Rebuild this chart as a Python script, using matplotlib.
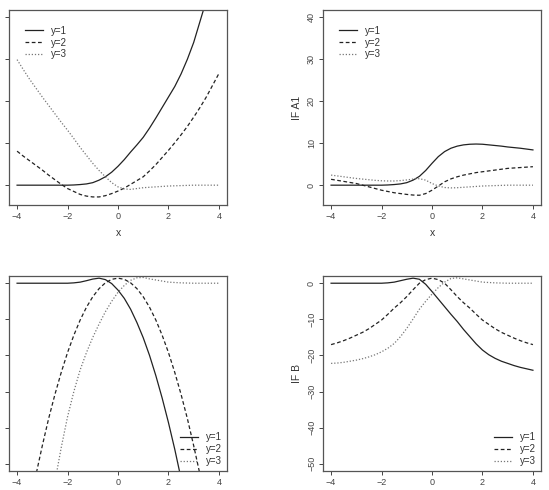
import matplotlib
matplotlib.use("Agg")
import matplotlib.pyplot as plt

plt.rcParams['font.family'] = ['Liberation Sans', 'DejaVu Sans']

# common x grid: values every 0.25
x = [-4, -3.75, -3.5, -3.25, -3, -2.75, -2.5, -2.25, -2, -1.75, -1.5,
     -1.25, -1, -0.75, -0.5, -0.25, 0, 0.25, 0.5, 0.75, 1, 1.25, 1.5,
     1.75, 2, 2.25, 2.5, 2.75, 3, 3.25, 3.5, 3.75, 4]

# top-left panel (its y labels fall outside the picture)
a0_y1 = [0, 0, 0, 0, 0, 0, 0, 0, 0, 0.05, 0.15, 0.3, 0.6, 1.2, 2, 3.1,
         4.5, 6.1, 7.9, 9.6, 11.4, 13.6, 16, 18.5, 21, 23.5, 26.5, 30, 34,
         39, 44, 49, 54]
a0_y2 = [8.1, 6.9, 5.8, 4.7, 3.6, 2.4, 1.3, 0.2, -0.8, -1.5, -2.2, -2.6,
         -2.8, -2.8, -2.5, -2.0, -1.4, -0.7, 0.2, 1.1, 2.0, 3.4, 4.9, 6.6,
         8.3, 10.1, 12, 14, 16.2, 18.5, 21, 23.8, 26.6]
a0_y3 = [29.9, 27.5, 25.2, 23.1, 21, 19, 17, 15, 13.1, 11.1, 9, 7.1, 5.2,
         3.5, 2, 0.6, -0.4, -0.9, -1.0, -0.8, -0.6, -0.5, -0.4, -0.3, -0.2,
         -0.15, -0.1, -0.05, 0, 0, 0, 0, 0]

# top-right panel: IF A1
a1_y1 = [0, 0, 0, 0, 0, 0, 0, 0, 0, 0.05, 0.15, 0.3, 0.6, 1.2, 2.1, 3.5,
         5.2, 6.8, 8.0, 8.8, 9.3, 9.6, 9.75, 9.8, 9.75, 9.6, 9.45, 9.3, 9.1,
         8.95, 8.8, 8.6, 8.4]
a1_y2 = [1.4, 1.15, 0.9, 0.65, 0.4, 0, -0.4, -0.8, -1.2, -1.5, -1.8, -2.0,
         -2.2, -2.35, -2.4, -2.0, -1.2, -0.2, 0.8, 1.5, 2.0, 2.4, 2.7, 3.0,
         3.2, 3.4, 3.6, 3.8, 4.0, 4.1, 4.2, 4.3, 4.4]
a1_y3 = [2.4, 2.2, 2.0, 1.8, 1.6, 1.45, 1.3, 1.15, 1.05, 1.0, 1.0, 1.1,
         1.25, 1.45, 1.55, 1.2, 0.4, -0.2, -0.55, -0.65, -0.6, -0.5, -0.4,
         -0.3, -0.2, -0.15, -0.1, -0.05, 0, 0, 0, 0, 0]

# bottom-left panel (its y labels fall outside the picture)
b0_y1 = [0, 0, 0, 0, 0, 0, 0, 0, 0, 0.1, 0.3, 0.7, 1.15, 1.4, 1.0, -0.1,
         -1.9, -4.2, -7.2, -10.9, -15.1, -20, -25.6, -31.8, -38.6, -46,
         -54.1, -62.9, -72.6, -83, -94, -106, -118]
b0_y2 = [-81, -71, -61.7, -53, -45, -37.5, -30.8, -24.7, -19.2, -14.4,
         -10.2, -6.65, -3.75, -1.5, 0.11, 1.08, 1.4, 1.08, 0.11, -1.5, -3.75,
         -6.65, -10.2, -14.4, -19.2, -24.7, -30.8, -37.5, -45, -53, -61.7,
         -71, -81]
b0_y3 = [-126, -113, -100.5, -88.5, -77, -65.5, -55, -45.5, -37, -30, -24,
         -19.2, -15, -11.3, -7.9, -5, -2.5, -0.6, 0.8, 1.5, 1.6, 1.2, 0.9,
         0.6, 0.3, 0.2, 0.1, 0.05, 0, 0, 0, 0, 0]

# bottom-right panel: IF B
b_y1 = [0, 0, 0, 0, 0, 0, 0, 0, 0, 0.1, 0.3, 0.7, 1.1, 1.4, 1.1, -0.3,
        -2.3, -4.4, -6.5, -8.6, -10.6, -12.8, -14.8, -16.8, -18.5, -19.8,
        -20.8, -21.6, -22.2, -22.8, -23.3, -23.7, -24.1]
b_y2 = [-17, -16.5, -15.9, -15.2, -14.4, -13.6, -12.6, -11.4, -10.2, -8.6,
        -6.9, -5.4, -3.7, -1.8, 0, 1.0, 1.4, 1.0, 0, -1.8, -3.7, -5.4, -6.9,
        -8.6, -10.2, -11.4, -12.6, -13.6, -14.4, -15.2, -15.9, -16.5, -17]
b_y3 = [-22.2, -22.1, -21.9, -21.6, -21.3, -20.9, -20.4, -19.8, -19, -18,
        -16.7, -14.8, -12.5, -9.9, -7.2, -5.0, -3.0, -1.2, 0.3, 1.3, 1.5,
        1.2, 0.9, 0.6, 0.3, 0.2, 0.1, 0.05, 0, 0, 0, 0, 0]

labels = ['y=1', 'y=2', 'y=3']
xticks = [-4, -2, 0, 2, 4]

W, H = 549, 490
fig = plt.figure(figsize=(W / 100, H / 100), dpi=100)


def box(l, t, r, b):
    return [l / W, 1 - b / H, (r - l) / W, (b - t) / H]


def panel(rect, ys, yticks, ylim, ylab, xlab, legloc, legpad,
          show_ylabels=True):
    ax = fig.add_axes(rect)
    styles = [dict(color='#222222', ls='-', lw=0.9),
              dict(color='#222222', ls=(0, (3, 2)), lw=0.9),
              dict(color='#777777', ls=(0, (1, 1.5)), lw=0.9)]
    for yv, st, lab in zip(ys, styles, labels):
        ax.plot(x, yv, label=lab, **st)
    ax.set_xlim(-4.32, 4.32)
    ax.set_ylim(*ylim)
    ax.set_xticks(xticks)
    ax.set_xticklabels([str(v).replace('-', '\u2212') for v in xticks])
    ax.set_yticks(yticks)
    if show_ylabels:
        ax.set_yticklabels([str(v).replace('-', '\u2212') for v in yticks],
                           rotation=90, va='center')
    else:
        ax.set_yticklabels([])
    ax.tick_params(labelsize=6.5, length=3, width=0.7, colors='#444444',
                   pad=2)
    for s in ax.spines.values():
        s.set_color('#555555')
        s.set_linewidth(0.9)
    if ylab:
        ax.set_ylabel(ylab, fontsize=7.5, color='#333333', labelpad=4)
    if xlab:
        ax.set_xlabel(xlab, fontsize=7.5, color='#333333', labelpad=5)
    ax.legend(loc=legloc, frameon=False, fontsize=7, handlelength=1.9,
              handletextpad=0.8, labelspacing=0.2, borderpad=0.2,
              borderaxespad=legpad, labelcolor='#333333')
    return ax


top_ylim = (-4.72, 41.72)
top_ticks = [0, 10, 20, 30, 40]
bot_ylim = (-52.0, 2.0)
bot_ticks = [-50, -40, -30, -20, -10, 0]

panel(box(9, 10, 227, 205), [a0_y1, a0_y2, a0_y3], top_ticks, top_ylim,
      None, 'x', 'upper left', 1.4, show_ylabels=False)
panel(box(323, 10, 541, 205), [a1_y1, a1_y2, a1_y3], top_ticks, top_ylim,
      'IF A1', 'x', 'upper left', 1.4)
panel(box(9, 276, 227, 471), [b0_y1, b0_y2, b0_y3], bot_ticks, bot_ylim,
      None, None, 'lower right', 0.3, show_ylabels=False)
panel(box(323, 276, 541, 471), [b_y1, b_y2, b_y3], bot_ticks, bot_ylim,
      'IF B', None, 'lower right', 0.3)

fig.savefig('out.png', dpi=100)
